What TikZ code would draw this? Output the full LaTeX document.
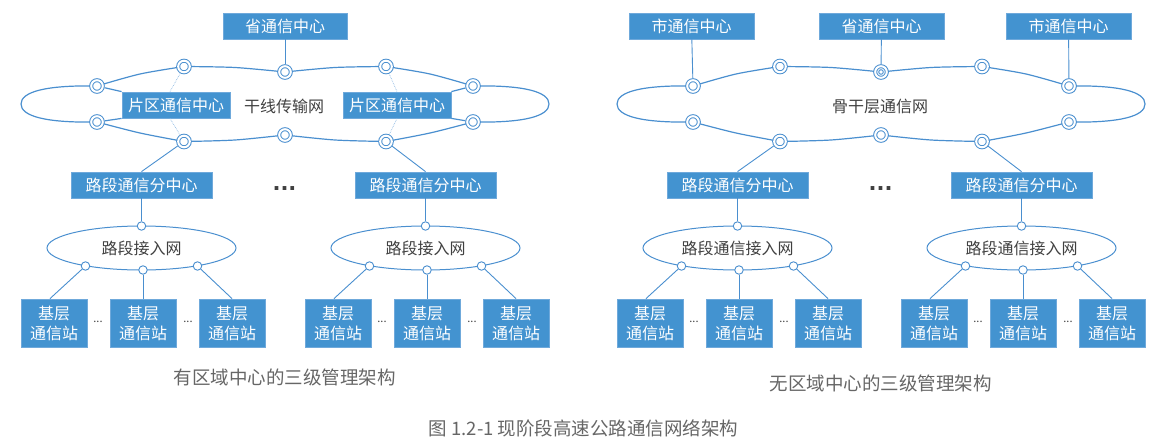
\documentclass[tikz,border=0pt]{standalone}
\usepackage{fontspec}
\setmainfont{Noto Sans CJK SC}
\newfontfamily\dotfont{DejaVu Sans}
\usetikzlibrary{shapes.geometric,calc}
\definecolor{boxblue}{HTML}{4393D0}
\definecolor{boxedge}{HTML}{6FA9DB}
\definecolor{lineblue}{HTML}{4A8FCF}
\definecolor{dotblue}{HTML}{8DB9E2}
\definecolor{txtgray}{HTML}{404040}
\definecolor{capgray}{HTML}{666666}
\tikzset{
  bbox/.style={fill=boxblue, draw=boxedge, line width=0.8pt, text=white,
    font=\fontsize{16}{20}\selectfont, inner sep=0pt},
  wide/.style={bbox, minimum width=#1, minimum height=26},
  base/.style={bbox, minimum width=66, minimum height=48, align=center},
  link/.style={draw=lineblue, line width=0.9pt},
  ringline/.style={draw=lineblue, line width=1.2pt},
  dotlink/.style={draw=dotblue, line width=0.7pt, densely dotted},
  dcirc/.style={circle, draw=lineblue, double=white, double distance=2pt,
    line width=1pt, fill=white, minimum size=11.6pt, inner sep=0pt, outer sep=2pt},
  tcirc/.style={dcirc, path picture={\draw[lineblue, line width=0.9pt]
    (path picture bounding box.center) circle[radius=2.3pt];}},
  scirc/.style={circle, draw=lineblue, fill=white, line width=0.9pt,
    minimum size=8.5pt, inner sep=0pt},
  accnet/.style={ellipse, draw=lineblue, line width=1pt, minimum width=189,
    minimum height=44, inner sep=0pt, text=txtgray, font=\fontsize{16}{20}\selectfont},
  label/.style={text=txtgray, font=\fontsize{16}{20}\selectfont, inner sep=0pt},
  bigdots/.style={text=txtgray, font=\dotfont\bfseries\fontsize{21}{21}\selectfont, inner sep=0pt},
  smalldots/.style={text=txtgray, font=\fontsize{11}{11}\selectfont, inner sep=0pt},
  caption/.style={text=capgray, font=\fontsize{18.5}{22}\selectfont, inner sep=0pt},
}
\newcommand\ringoutline{%
  \draw[ringline] (-188,-18) .. controls (-240,-19) and (-264,-12) .. (-264,0)
                  .. controls (-264,12) and (-240,19) .. (-188,18);
  \draw[ringline] (188,-18) .. controls (240,-19) and (264,-12) .. (264,0)
                  .. controls (264,12) and (240,19) .. (188,18);
  \draw[ringline] plot[smooth] coordinates {(-188,-18) (-145,-30) (-101,-37.5)};
  \draw[ringline] plot[smooth] coordinates {(-101,-37.5) (-50,-36.5) (0,-32)};
  \draw[ringline] plot[smooth] coordinates {(0,-32) (50,-36.5) (101,-37.5)};
  \draw[ringline] plot[smooth] coordinates {(101,-37.5) (145,-30) (188,-18)};
  \draw[ringline] plot[smooth] coordinates {(-188,18) (-145,29) (-101,37.5)};
  \draw[ringline] plot[smooth] coordinates {(-101,37.5) (-50,36) (0,31)};
  \draw[ringline] plot[smooth] coordinates {(0,31) (50,36) (101,37.5)};
  \draw[ringline] plot[smooth] coordinates {(101,37.5) (145,29) (188,18)};
}
\begin{document}
\begin{tikzpicture}[x=1pt,y=-1pt]
\useasboundingbox (0,0) rectangle (1158,444);

% ---------------- left: ring with regional centres ----------------
\begin{scope}[shift={(285,104)}]
  \ringoutline
  \node[wide=108] (pqL) at (-109,1) {片区通信中心};
  \node[wide=108] (pqR) at (112,1) {片区通信中心};
  \node[label] (trunk) at (-1,2) {干线传输网};
  \node[dcirc] (Lt1) at (-188,-18) {};
  \node[dcirc] (Lt2) at (-101,-37.5) {};
  \node[dcirc] (Lt3) at (0,-32) {};
  \node[dcirc] (Lt4) at (101,-37.5) {};
  \node[dcirc] (Lt5) at (188,-18) {};
  \node[dcirc] (Lb1) at (-188,18) {};
  \node[dcirc] (Lb2) at (-101,37.5) {};
  \node[dcirc] (Lb3) at (0,31) {};
  \node[dcirc] (Lb4) at (101,37.5) {};
  \node[dcirc] (Lb5) at (188,18) {};
\end{scope}
\draw[ringline] (Lt1) -- (pqL.north west);
\draw[ringline] (Lb1) -- (pqL.south west);
\draw[ringline] (Lt5) -- (pqR.north east);
\draw[ringline] (Lb5) -- (pqR.south east);
\draw[dotlink] (Lt2) -- ($(pqL.north)+(-6,0)$);
\draw[dotlink] ($(pqL.south)+(-6,0)$) -- (Lb2);
\draw[dotlink] (Lt4) -- (pqR.north);
\draw[dotlink] (pqR.south) -- (Lb4);
\node[wide=124] (shengL) at (285,26) {省通信中心};
\draw[link] (shengL) -- (Lt3);

% ---------------- right: backbone ring ----------------
\begin{scope}[shift={(881,104)}]
  \ringoutline
  \node[label] (backbone) at (-1,2) {骨干层通信网};
  \node[dcirc] (Rt1) at (-188,-18) {};
  \node[dcirc] (Rt2) at (-101,-37.5) {};
  \node[tcirc] (Rt3) at (0,-32) {};
  \node[dcirc] (Rt4) at (101,-37.5) {};
  \node[dcirc] (Rt5) at (188,-18) {};
  \node[dcirc] (Rb1) at (-188,18) {};
  \node[dcirc] (Rb2) at (-101,37.5) {};
  \node[dcirc] (Rb3) at (0,31) {};
  \node[dcirc] (Rb4) at (101,37.5) {};
  \node[dcirc] (Rb5) at (188,18) {};
\end{scope}
\node[wide=125] (shiL) at (691.5,26) {市通信中心};
\node[wide=125] (shengR) at (881.5,26) {省通信中心};
\node[wide=125] (shiR) at (1068.5,26) {市通信中心};
\draw[link] (shiL) -- (Rt1);
\draw[link] (shengR) -- (Rt3);
\draw[link] (shiR) -- (Rt5);

% ---------------- lower levels (both sides) ----------------
\foreach \dx/\p/\acc in {0/L/{路段接入网}, 596/R/{路段通信接入网}}{
  \begin{scope}[shift={(\dx,0)}]
    \node[bigdots] (dots\p) at (284.5,189) {...};
    \foreach \g/\cx in {1/141.5, 2/425.5}{
      \node[wide=141] (ld\p\g) at (\cx,185) {路段通信分中心};
      \node[accnet] (an\p\g) at (\cx,248) {\acc};
      \node[scirc] (st\p\g) at (\cx,226) {};
      \node[scirc] (sa\p\g) at (\cx-56,266) {};
      \node[scirc] (sb\p\g) at (\cx+1.5,270) {};
      \node[scirc] (sc\p\g) at (\cx+56,266) {};
      \node[base] (ba\p\g) at (\cx-87.5,323) {基层\\通信站};
      \node[base] (bb\p\g) at (\cx+1.5,323) {基层\\通信站};
      \node[base] (bc\p\g) at (\cx+90.5,323) {基层\\通信站};
      \node[smalldots] (da\p\g) at (\cx-43.5,322) {...};
      \node[smalldots] (db\p\g) at (\cx+46.5,322) {...};
      \draw[link] (ld\p\g) -- (st\p\g);
      \draw[link] (sa\p\g) -- ($(ba\p\g.north)+(-4,0)$);
      \draw[link] (sb\p\g) -- (bb\p\g);
      \draw[link] (sc\p\g) -- (bc\p\g.north);
    }
  \end{scope}
}
\draw[link] (Lb2) -- (ldL1.north);
\draw[link] (Lb4) -- (ldL2.north);
\draw[link] (Rb2) -- (ldR1.north);
\draw[link] (Rb4) -- (ldR2.north);

% ---------------- captions ----------------
\node[caption] (capL) at (284.5,377) {有区域中心的三级管理架构};
\node[caption] (capR) at (880.5,383) {无区域中心的三级管理架构};
\node[caption] (fig) at (583.5,428) {图 1.2-1 现阶段高速公路通信网络架构};
\end{tikzpicture}
\end{document}
